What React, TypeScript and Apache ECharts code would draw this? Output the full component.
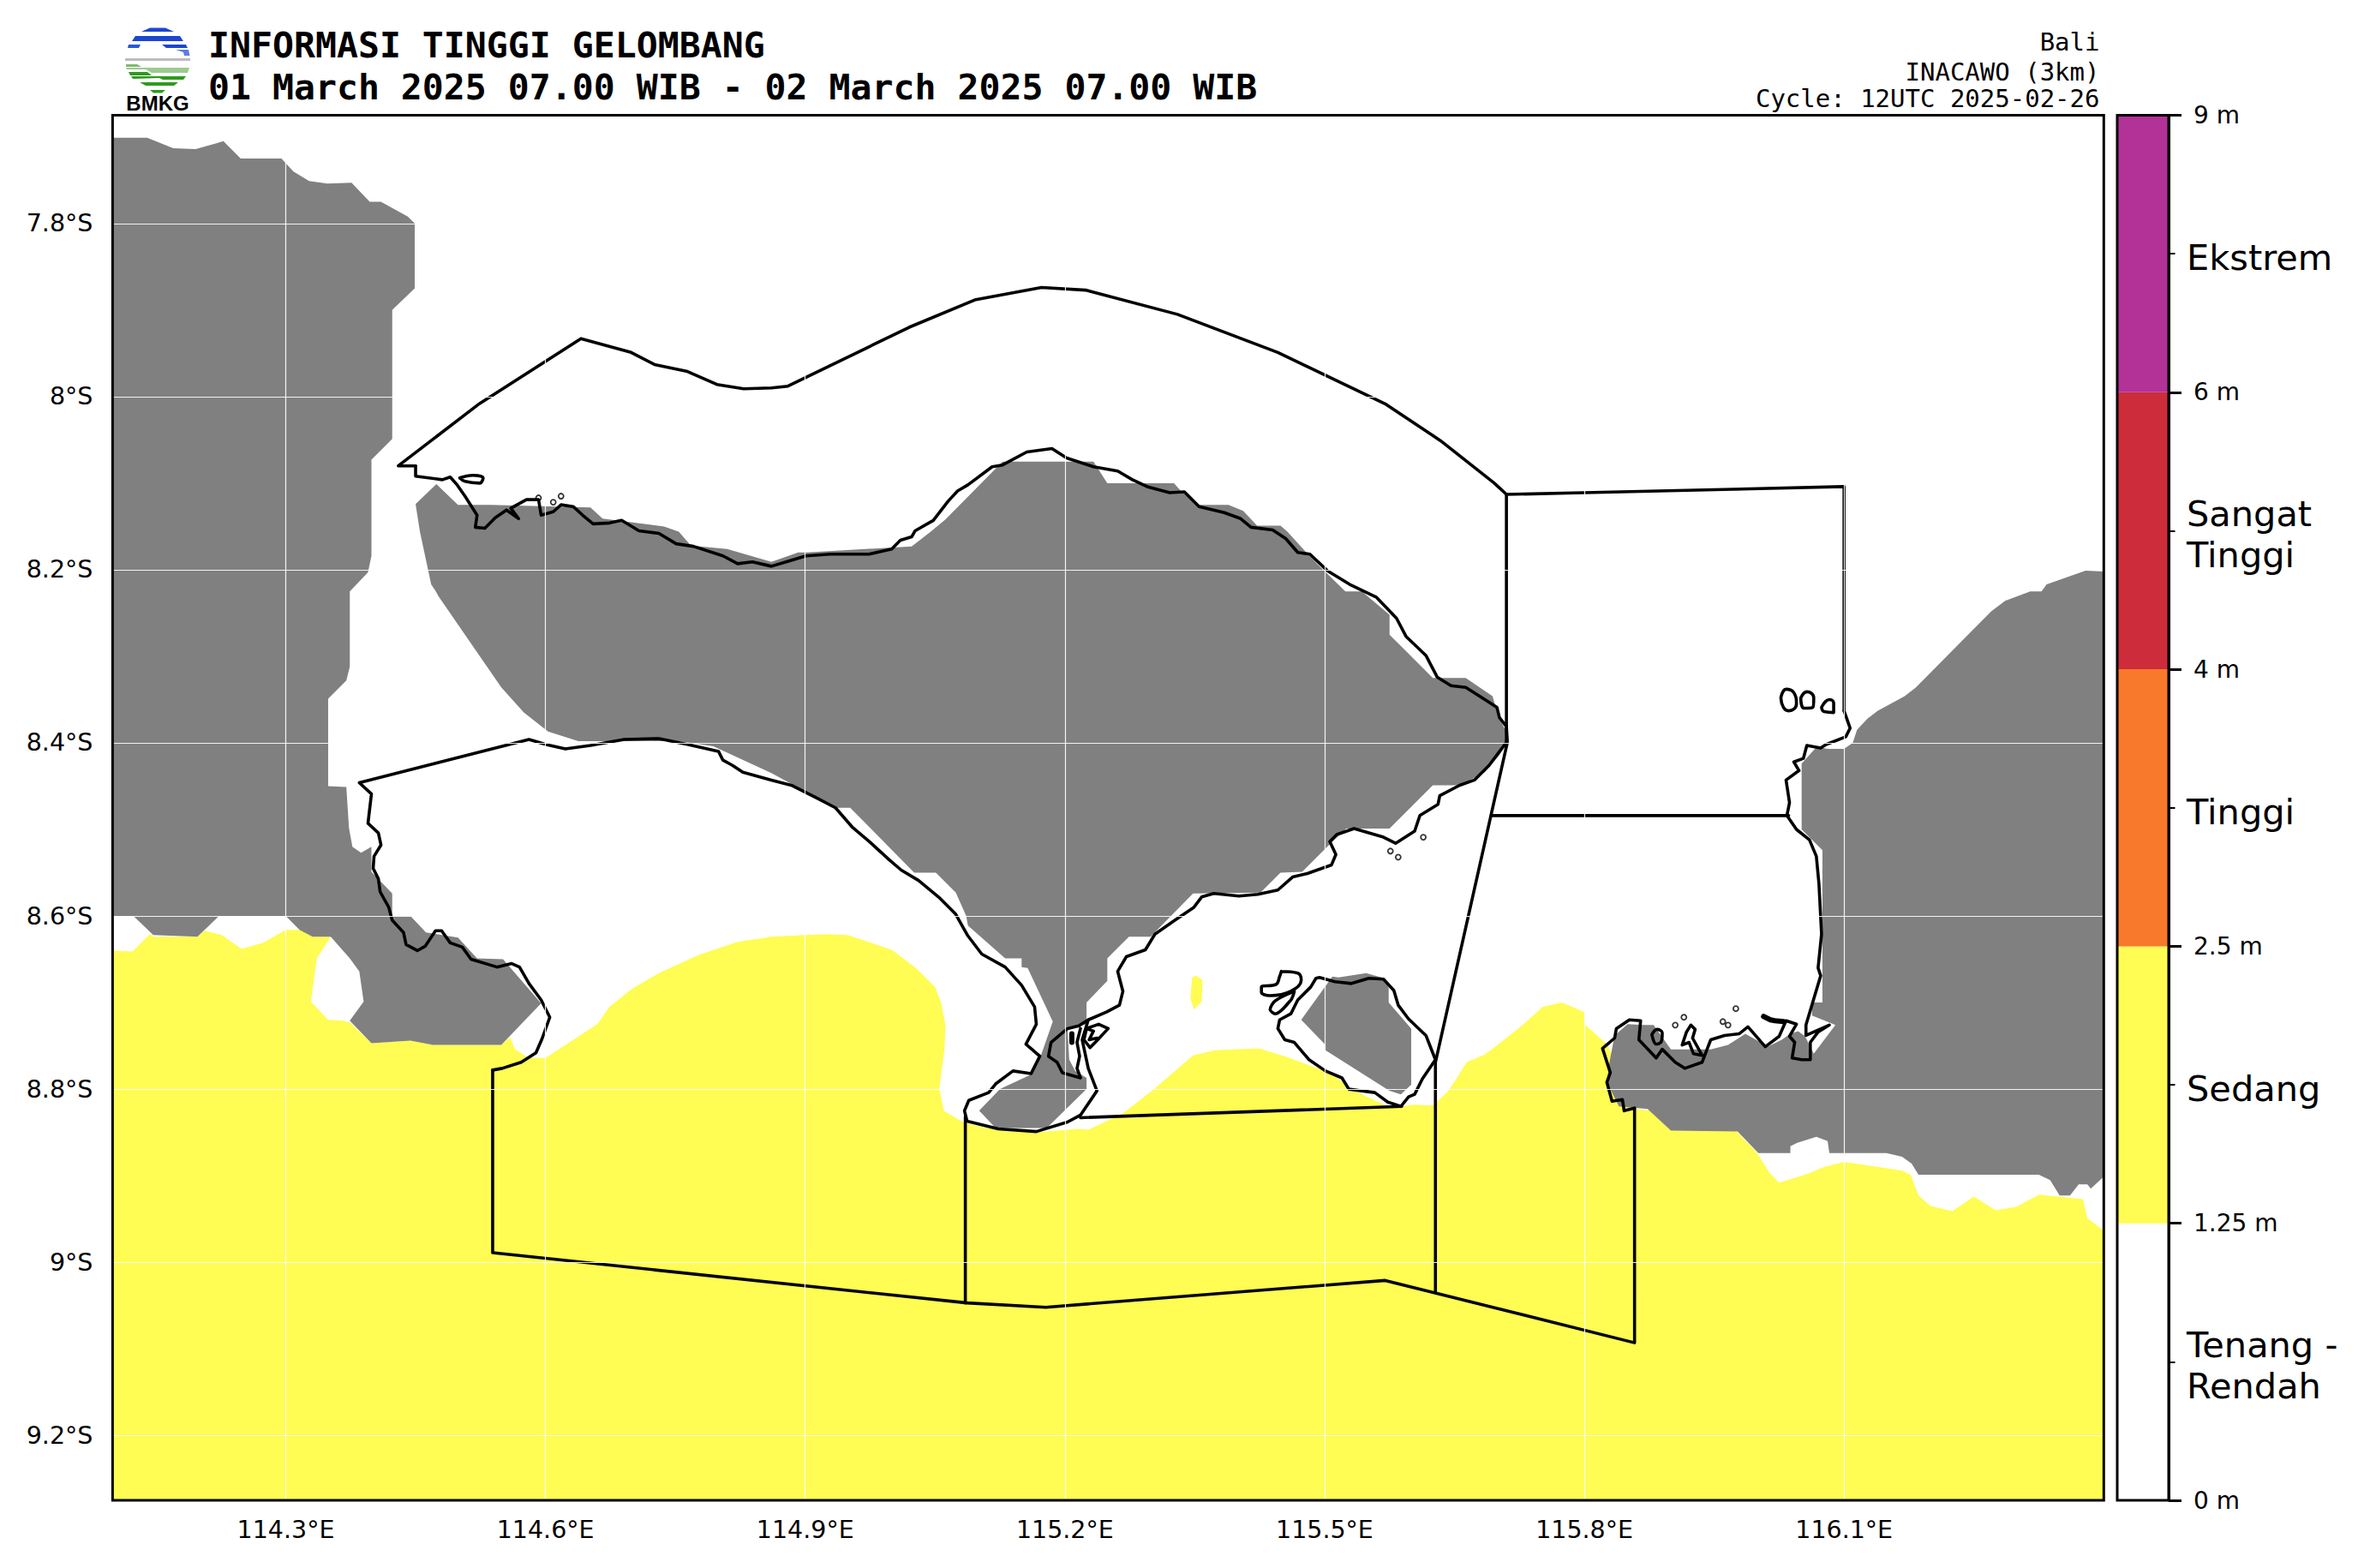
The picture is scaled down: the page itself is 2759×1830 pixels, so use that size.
import React, { useEffect, useRef } from "react";
import * as echarts from "echarts";

type P = [number, number];

const lonTicks = [114.3, 114.6, 114.9, 115.2, 115.5, 115.8, 116.1];
const latTicks = [-7.8, -8, -8.2, -8.4, -8.6, -8.8, -9, -9.2];
const bandEdges = ["0 m", "1.25 m", "2.5 m", "4 m", "6 m", "9 m"];
const bandNames = ["Tenang -\nRendah", "Sedang", "Tinggi", "Sangat\nTinggi", "Ekstrem"];
const bandColors = ["#FFFFFF", "#FFFC53", "#F8792B", "#CD2C3A", "#B23298"];

// all outlines: [longitude E, latitude S]
const waveSedang: P[] = [
  [114.1, 8.64], [114.123, 8.641], [114.143, 8.621], [114.147, 8.624], [114.198, 8.624], [114.206, 8.617], [114.226, 8.622], [114.249, 8.638],
  [114.274, 8.631], [114.3, 8.616], [114.318, 8.616], [114.331, 8.624], [114.352, 8.624], [114.336, 8.649], [114.329, 8.699], [114.349, 8.72],
  [114.366, 8.721], [114.374, 8.723], [114.399, 8.747], [114.444, 8.744], [114.47, 8.749], [114.549, 8.749], [114.559, 8.74], [114.565, 8.754],
  [114.581, 8.764], [114.6, 8.764], [114.66, 8.725], [114.674, 8.705], [114.7, 8.684], [114.731, 8.666], [114.777, 8.645], [114.822, 8.63],
  [114.861, 8.624], [114.9, 8.622], [114.926, 8.621], [114.949, 8.622], [115.0, 8.639], [115.028, 8.66], [115.05, 8.682], [115.057, 8.7],
  [115.062, 8.726], [115.061, 8.753], [115.055, 8.799], [115.06, 8.825], [115.082, 8.838], [115.108, 8.845], [115.167, 8.85], [115.216, 8.846],
  [115.227, 8.847], [115.267, 8.828], [115.303, 8.8], [115.348, 8.761], [115.373, 8.755], [115.424, 8.753], [115.454, 8.762], [115.5, 8.779],
  [115.509, 8.782], [115.528, 8.799], [115.577, 8.822], [115.602, 8.818], [115.625, 8.819], [115.642, 8.803], [115.651, 8.79], [115.664, 8.769],
  [115.685, 8.76], [115.696, 8.752], [115.73, 8.725], [115.752, 8.705], [115.774, 8.7], [115.8, 8.711], [115.8, 8.725], [115.827, 8.749],
  [115.84, 8.78], [115.857, 8.823], [115.876, 8.825], [115.9, 8.848], [115.975, 8.848], [115.999, 8.873], [116.014, 8.897], [116.025, 8.908],
  [116.055, 8.899], [116.077, 8.89], [116.1, 8.884], [116.166, 8.894], [116.177, 8.899], [116.186, 8.923], [116.2, 8.935], [116.225, 8.941],
  [116.25, 8.924], [116.275, 8.94], [116.299, 8.936], [116.325, 8.922], [116.376, 8.927], [116.381, 8.949], [116.398, 8.962], [116.4, 8.965],
  [116.4, 9.275], [114.1, 9.275],
];
const waveSedangIslet: P[] = [[115.347, 8.671], [115.351, 8.669], [115.359, 8.674], [115.358, 8.699], [115.349, 8.708], [115.345, 8.695]];

const landJava: P[] = [
  [114.1, 7.701], [114.14, 7.701], [114.17, 7.713], [114.196, 7.714], [114.228, 7.705], [114.248, 7.725], [114.295, 7.725], [114.309, 7.74],
  [114.327, 7.751], [114.348, 7.754], [114.376, 7.753], [114.397, 7.775], [114.41, 7.775], [114.441, 7.792], [114.449, 7.8], [114.449, 7.875],
  [114.423, 7.9], [114.423, 8.049], [114.399, 8.073], [114.399, 8.184], [114.395, 8.203], [114.374, 8.225], [114.374, 8.312], [114.37, 8.328],
  [114.349, 8.349], [114.349, 8.45], [114.37, 8.451], [114.373, 8.498], [114.377, 8.52], [114.387, 8.527], [114.399, 8.52], [114.399, 8.549],
  [114.423, 8.574], [114.423, 8.6], [114.444, 8.6], [114.462, 8.619], [114.499, 8.625], [114.521, 8.649], [114.551, 8.65], [114.595, 8.701],
  [114.549, 8.749], [114.47, 8.749], [114.444, 8.744], [114.399, 8.747], [114.374, 8.721], [114.39, 8.699], [114.385, 8.664], [114.374, 8.649],
  [114.352, 8.624], [114.331, 8.624], [114.316, 8.616], [114.3, 8.6], [114.223, 8.6], [114.198, 8.624], [114.147, 8.622], [114.124, 8.6], [114.1, 8.6],
];
const landBali: P[] = [
  [114.474, 8.101], [114.499, 8.125], [114.537, 8.125], [114.652, 8.128], [114.666, 8.141], [114.737, 8.15], [114.754, 8.156], [114.768, 8.172],
  [114.81, 8.176], [114.861, 8.191], [114.892, 8.18], [114.902, 8.18], [115.023, 8.173], [115.045, 8.156], [115.062, 8.142], [115.128, 8.075],
  [115.233, 8.075], [115.249, 8.1], [115.326, 8.1], [115.334, 8.109], [115.354, 8.125], [115.389, 8.125], [115.406, 8.132], [115.422, 8.149],
  [115.449, 8.149], [115.457, 8.156], [115.477, 8.178], [115.491, 8.193], [115.524, 8.225], [115.543, 8.225], [115.575, 8.252], [115.575, 8.275],
  [115.625, 8.325], [115.663, 8.325], [115.694, 8.346], [115.701, 8.371], [115.71, 8.387], [115.711, 8.4], [115.702, 8.414], [115.685, 8.434],
  [115.657, 8.449], [115.625, 8.449], [115.575, 8.499], [115.525, 8.499], [115.503, 8.52], [115.474, 8.549], [115.449, 8.55], [115.426, 8.573],
  [115.348, 8.574], [115.299, 8.624], [115.274, 8.624], [115.249, 8.649], [115.249, 8.675], [115.225, 8.7], [115.225, 8.725], [115.203, 8.73],
  [115.205, 8.766], [115.212, 8.779], [115.225, 8.787], [115.225, 8.8], [115.179, 8.845], [115.12, 8.845], [115.101, 8.825], [115.125, 8.8],
  [115.159, 8.784], [115.172, 8.762], [115.186, 8.722], [115.157, 8.66], [115.15, 8.659], [115.15, 8.649], [115.131, 8.649], [115.088, 8.611],
  [115.086, 8.6], [115.074, 8.573], [115.051, 8.55], [115.026, 8.55], [114.952, 8.475], [114.935, 8.475], [114.861, 8.435], [114.794, 8.404],
  [114.753, 8.398], [114.638, 8.398], [114.603, 8.387], [114.575, 8.365], [114.549, 8.336], [114.476, 8.23], [114.474, 8.226], [114.468, 8.217],
  [114.455, 8.156], [114.45, 8.124],
];
const landPenida: P[] = [
  [115.473, 8.72], [115.509, 8.67], [115.516, 8.671], [115.548, 8.666], [115.569, 8.672], [115.574, 8.683], [115.574, 8.7], [115.6, 8.73],
  [115.6, 8.795], [115.588, 8.806], [115.575, 8.802], [115.501, 8.755], [115.501, 8.749],
];
const landLombok: P[] = [
  [116.4, 8.202], [116.379, 8.201], [116.334, 8.217], [116.328, 8.225], [116.315, 8.225], [116.286, 8.236], [116.27, 8.248], [116.183, 8.336],
  [116.17, 8.346], [116.139, 8.363], [116.127, 8.372], [116.115, 8.385], [116.11, 8.4], [116.1, 8.407], [116.082, 8.407], [116.068, 8.405],
  [116.051, 8.424], [116.051, 8.5], [116.075, 8.524], [116.075, 8.7], [116.063, 8.7], [116.063, 8.715], [116.09, 8.726], [116.065, 8.759],
  [116.055, 8.739], [116.047, 8.733], [116.038, 8.736], [116.028, 8.743], [116.012, 8.751], [115.986, 8.736], [115.966, 8.749], [115.946, 8.754],
  [115.9, 8.754], [115.88, 8.726], [115.868, 8.726], [115.85, 8.725], [115.835, 8.738], [115.829, 8.769], [115.826, 8.792], [115.84, 8.82],
  [115.873, 8.823], [115.9, 8.848], [115.977, 8.849], [116.001, 8.874], [116.038, 8.874], [116.038, 8.866], [116.046, 8.862], [116.068, 8.855],
  [116.081, 8.86], [116.083, 8.874], [116.149, 8.874], [116.167, 8.878], [116.178, 8.886], [116.186, 8.899], [116.325, 8.899], [116.338, 8.905],
  [116.349, 8.923], [116.361, 8.923], [116.371, 8.91], [116.381, 8.91], [116.385, 8.915], [116.4, 8.901],
];

const zoneNorth: P[] = [
  [114.45, 8.08], [114.43, 8.08], [114.524, 8.008], [114.641, 7.933], [114.699, 7.949], [114.726, 7.963], [114.764, 7.971], [114.798, 7.986],
  [114.829, 7.991], [114.861, 7.99], [114.88, 7.988], [115.02, 7.92], [115.097, 7.888], [115.173, 7.874], [115.224, 7.877], [115.33, 7.905],
  [115.446, 7.949], [115.571, 8.009], [115.634, 8.051], [115.696, 8.1], [115.71, 8.113], [115.71, 8.4],
];
const zoneEastTop: P[] = [[115.71, 8.113], [115.8, 8.111], [116.1, 8.104], [116.1, 8.363]];
const zoneEastMid: P[] = [[115.693, 8.484], [116.036, 8.484]];
const zoneDiagonal: P[] = [[115.711, 8.4], [115.628, 8.769], [115.628, 9.035]];
const zoneSouth: P[] = [[114.539, 8.778], [114.539, 8.989], [115.087, 9.047], [115.178, 9.052], [115.57, 9.021], [115.858, 9.093], [115.858, 8.822]];
const zoneSouthInner: P[] = [[115.085, 8.832], [115.085, 9.047]];
const zoneStrait: P[] = [[115.218, 8.833], [115.589, 8.82]];

const coastBali: P[] = [
  [114.45, 8.08], [114.45, 8.092], [114.481, 8.096], [114.49, 8.093], [114.498, 8.102], [114.507, 8.115], [114.521, 8.137], [114.519, 8.151],
  [114.53, 8.152], [114.542, 8.14], [114.555, 8.131], [114.569, 8.141], [114.56, 8.129], [114.578, 8.119], [114.592, 8.119], [114.595, 8.137],
  [114.609, 8.133], [114.618, 8.125], [114.632, 8.127], [114.643, 8.137], [114.655, 8.147], [114.674, 8.146], [114.688, 8.143], [114.708, 8.155],
  [114.731, 8.158], [114.751, 8.17], [114.771, 8.173], [114.805, 8.184], [114.822, 8.193], [114.839, 8.191], [114.861, 8.196], [114.878, 8.191],
  [114.901, 8.184], [114.929, 8.182], [114.974, 8.182], [115.0, 8.176], [115.01, 8.166], [115.023, 8.162], [115.027, 8.155], [115.048, 8.143],
  [115.065, 8.121], [115.076, 8.109], [115.088, 8.102], [115.116, 8.081], [115.128, 8.079], [115.156, 8.064], [115.185, 8.06], [115.202, 8.071],
  [115.233, 8.081], [115.261, 8.086], [115.278, 8.096], [115.295, 8.104], [115.321, 8.111], [115.338, 8.11], [115.355, 8.127], [115.384, 8.134],
  [115.403, 8.141], [115.415, 8.151], [115.44, 8.154], [115.455, 8.164], [115.469, 8.18], [115.483, 8.182], [115.503, 8.201], [115.529, 8.217],
  [115.56, 8.232], [115.583, 8.256], [115.594, 8.277], [115.617, 8.299], [115.63, 8.324], [115.646, 8.334], [115.663, 8.336], [115.679, 8.346],
  [115.699, 8.359], [115.702, 8.371], [115.71, 8.381], [115.711, 8.398], [115.702, 8.41], [115.69, 8.426], [115.673, 8.443], [115.656, 8.449],
  [115.633, 8.461], [115.631, 8.471], [115.61, 8.484], [115.604, 8.502], [115.582, 8.516], [115.568, 8.509], [115.551, 8.504], [115.534, 8.499],
  [115.514, 8.506], [115.506, 8.514], [115.513, 8.529], [115.508, 8.541], [115.48, 8.551], [115.463, 8.555], [115.446, 8.57], [115.423, 8.575],
  [115.401, 8.577], [115.372, 8.574], [115.358, 8.578], [115.349, 8.59], [115.327, 8.605], [115.304, 8.621], [115.293, 8.639], [115.271, 8.647],
  [115.261, 8.664], [115.267, 8.687], [115.263, 8.703], [115.248, 8.711], [115.227, 8.72], [115.22, 8.743], [115.227, 8.776], [115.237, 8.802],
  [115.218, 8.83], [115.203, 8.838], [115.167, 8.849], [115.123, 8.846], [115.087, 8.837], [115.084, 8.825], [115.089, 8.813], [115.112, 8.804],
  [115.12, 8.794], [115.14, 8.779], [115.161, 8.782], [115.171, 8.762], [115.155, 8.748], [115.167, 8.725], [115.165, 8.705], [115.15, 8.68],
  [115.131, 8.659], [115.104, 8.644], [115.088, 8.623], [115.08, 8.609], [115.074, 8.598], [115.054, 8.578], [115.031, 8.559], [115.011, 8.547],
  [114.997, 8.535], [114.974, 8.514], [114.955, 8.498], [114.935, 8.475], [114.912, 8.463], [114.884, 8.449], [114.861, 8.443], [114.828, 8.434],
  [114.816, 8.426], [114.805, 8.42], [114.8, 8.41], [114.765, 8.402], [114.731, 8.395], [114.691, 8.396], [114.652, 8.403], [114.623, 8.407],
  [114.601, 8.402], [114.581, 8.396], [114.385, 8.446], [114.399, 8.459], [114.395, 8.493], [114.407, 8.504], [114.41, 8.518], [114.402, 8.531],
  [114.401, 8.545], [114.407, 8.557], [114.409, 8.572], [114.419, 8.59], [114.423, 8.605], [114.436, 8.619], [114.439, 8.633], [114.452, 8.64],
  [114.461, 8.635], [114.473, 8.617], [114.48, 8.617], [114.49, 8.631], [114.504, 8.636], [114.514, 8.65], [114.544, 8.659], [114.561, 8.655],
  [114.57, 8.659], [114.581, 8.678], [114.595, 8.697], [114.605, 8.717], [114.596, 8.742], [114.589, 8.758], [114.572, 8.769], [114.55, 8.776], [114.539, 8.778],
];
const coastBenoa: P[] = [
  [115.227, 8.72], [115.216, 8.727], [115.203, 8.73], [115.184, 8.746], [115.181, 8.762], [115.191, 8.769], [115.197, 8.781], [115.218, 8.787],
  [115.214, 8.776], [115.217, 8.762], [115.214, 8.746], [115.218, 8.73],
];
const coastSerangan: P[] = [[115.225, 8.73], [115.239, 8.725], [115.25, 8.73], [115.237, 8.744], [115.229, 8.752], [115.222, 8.743], [115.225, 8.73], [115.233, 8.733], [115.228, 8.743], [115.237, 8.741]];
const coastBenoaIsle: P[] = [[115.208, 8.736], [115.208, 8.746]];
const coastPenida: P[] = [
  [115.49, 8.672], [115.494, 8.671], [115.512, 8.676], [115.531, 8.678], [115.551, 8.672], [115.568, 8.673], [115.58, 8.686], [115.585, 8.703],
  [115.597, 8.719], [115.617, 8.738], [115.628, 8.766], [115.613, 8.788], [115.604, 8.806], [115.597, 8.809], [115.588, 8.82], [115.573, 8.815],
  [115.558, 8.804], [115.528, 8.8], [115.52, 8.787], [115.501, 8.779], [115.482, 8.766], [115.465, 8.746], [115.454, 8.743], [115.446, 8.73],
  [115.448, 8.72], [115.461, 8.713], [115.469, 8.697], [115.484, 8.682], [115.49, 8.672],
];
const coastLembongan: P[] = [[115.45, 8.664], [115.469, 8.666], [115.473, 8.674], [115.461, 8.687], [115.437, 8.692], [115.427, 8.688], [115.427, 8.682], [115.444, 8.679], [115.448, 8.67], [115.45, 8.664]];
const coastCeningan: P[] = [[115.465, 8.687], [115.461, 8.697], [115.443, 8.713], [115.437, 8.708], [115.443, 8.698], [115.465, 8.687]];
const coastMenjangan: P[] = [[114.501, 8.094], [114.516, 8.091], [114.528, 8.094], [114.524, 8.1], [114.507, 8.098], [114.501, 8.094]];
const coastLombok: P[] = [
  [116.1, 8.363], [116.107, 8.383], [116.102, 8.393], [116.079, 8.402], [116.073, 8.406], [116.057, 8.403], [116.053, 8.418], [116.042, 8.422],
  [116.048, 8.432], [116.033, 8.443], [116.037, 8.469], [116.034, 8.484], [116.045, 8.5], [116.06, 8.512], [116.068, 8.531], [116.071, 8.563],
  [116.074, 8.621], [116.07, 8.66], [116.073, 8.669], [116.056, 8.726], [116.056, 8.738], [116.083, 8.726], [116.07, 8.734], [116.061, 8.746],
  [116.061, 8.766], [116.051, 8.766], [116.04, 8.764], [116.043, 8.746], [116.037, 8.739], [116.045, 8.725], [116.033, 8.721], [116.025, 8.739],
  [116.009, 8.751], [115.989, 8.728], [115.979, 8.736], [115.962, 8.738], [115.946, 8.743], [115.941, 8.756], [115.936, 8.769], [115.916, 8.776],
  [115.905, 8.769], [115.89, 8.754], [115.883, 8.764], [115.863, 8.743], [115.865, 8.721], [115.852, 8.72], [115.837, 8.73], [115.835, 8.741],
  [115.821, 8.753], [115.83, 8.781], [115.826, 8.792], [115.832, 8.814], [115.844, 8.812], [115.846, 8.825], [115.858, 8.822],
];
const coastLombokIsle: P[] = [[115.918, 8.734], [115.923, 8.726], [115.928, 8.731], [115.925, 8.741], [115.936, 8.761], [115.926, 8.759], [115.921, 8.746], [115.913, 8.749], [115.918, 8.734]];
const coastLombokLoop: P[] = [[115.878, 8.737], [115.884, 8.731], [115.89, 8.735], [115.889, 8.745], [115.883, 8.748], [115.878, 8.737]];
const coastLombokSpit: P[] = [[116.007, 8.716], [116.015, 8.72], [116.02, 8.721], [116.03, 8.722]];
const giliTrawangan: P[] = [[116.027, 8.348], [116.033, 8.338], [116.042, 8.342], [116.045, 8.355], [116.036, 8.363], [116.03, 8.359], [116.027, 8.348]];
const giliMeno: P[] = [[116.05, 8.348], [116.057, 8.341], [116.065, 8.348], [116.064, 8.359], [116.054, 8.36], [116.05, 8.348]];
const giliAir: P[] = [[116.074, 8.359], [116.083, 8.35], [116.088, 8.354], [116.088, 8.365], [116.077, 8.364], [116.074, 8.359]];
const smallIslets: P[] = [
  [115.576, 8.525], [115.585, 8.532], [115.614, 8.509], [114.592, 8.117], [114.609, 8.122], [114.618, 8.115],
  [115.905, 8.726], [115.915, 8.717], [115.975, 8.707], [115.96, 8.722], [115.966, 8.726],
];

const S = (pts: P[]) => pts.map(([x, y]) => [x, -y]);

const lonMin = 114.1, lonMax = 116.4, latMin = -9.275, latMax = -7.675;

const fillSeries = (name: string, pts: P[], color: string, z: number) => {
  const data = S(pts);
  return {
    type: "custom", name, coordinateSystem: "cartesian2d", xAxisIndex: 0, yAxisIndex: 0, z, clip: true, silent: true,
    data, encode: { x: 0, y: 1 },
    renderItem: (params: any, api: any) =>
      params.dataIndex === 0 ? { type: "polygon", shape: { points: data.map((p) => api.coord(p)) }, style: { fill: color, stroke: "none" } } : null,
  };
};
const lineSeries = (name: string, pts: P[], width = 3.6, smooth: number | boolean = false) => ({
  type: "line", name, xAxisIndex: 0, yAxisIndex: 0, z: 3, silent: true, showSymbol: false, symbol: "none", data: S(pts), smooth,
  lineStyle: { color: "#000", width, join: "round", cap: "round" },
});

const logoShapes: [number[][], string][] = [
  [[[175, 32.5], [193, 32.5], [203, 37], [165, 37]], "#1B46D0"],
  [[[158, 42], [210, 42], [214, 48], [154, 48]], "#1B46D0"],
  [[[150, 52], [164, 52], [162, 56], [149, 56]], "#2A58D8"],
  [[[189, 52], [217, 52], [219, 56], [194, 56]], "#1B46D0"],
  [[[205, 58], [220, 58], [221.5, 65], [215, 65], [214, 61]], "#5C7FE0"],
  [[[146, 68], [222, 68], [222, 71], [146, 71]], "#BDBDBD"],
  [[[147, 75], [160, 75], [165, 78], [147, 78]], "#7DBB6C"],
  [[[147, 79], [221, 79], [219, 85], [177, 85], [170, 81], [148, 81]], "#9CCB8E"],
  [[[150, 84], [172, 84], [177, 88], [152, 88]], "#2E9A1E"],
  [[[153, 89], [217, 89], [214, 93], [190, 93], [186, 91], [155, 92]], "#2E9A1E"],
  [[[163, 96], [208, 96], [203, 100], [170, 100]], "#2E9A1E"],
  [[[175, 105], [193, 105], [189, 108.5], [179, 108.5]], "#2E9A1E"],
];

const mono = "'DejaVu Sans Mono', monospace";
const sans = "'DejaVu Sans', sans-serif";
const labelNudge = 0.014;

export default function App() {
  const ref = useRef<HTMLDivElement>(null);
  useEffect(() => {
    document.body.style.margin = "0";
    const chart = echarts.init(ref.current!, null, { renderer: "svg" });
    const text = (t: string, x: number, y: number, size: number, bold: boolean, align = "left", family = mono) => ({
      type: "text", x, y, z: 20, silent: true,
      style: { text: t, fontFamily: family, fontSize: size, fontWeight: bold ? "bold" : "normal", fill: "#000", textAlign: align, textVerticalAlign: "bottom" },
    });
    chart.setOption({
      animation: false,
      backgroundColor: "#fff",
      grid: [
        { left: 131.4, top: 134.5, width: 2323.9, height: 1616.5 },
        { left: 2471, top: 134.5, width: 60, height: 1616.5 },
      ],
      xAxis: [
        {
          type: "value", gridIndex: 0, min: lonMin, max: lonMax, z: 5,
          axisLine: { show: false }, axisTick: { show: false, customValues: lonTicks },
          axisLabel: { customValues: lonTicks, margin: 20, fontSize: 28.5, fontFamily: sans, color: "#000", formatter: (v: number) => `${v}°E` },
          splitLine: { show: true, lineStyle: { color: "rgba(255,255,255,0.9)", width: 1.2 } },
        },
        { type: "category", gridIndex: 1, data: ["Tinggi Gelombang"], axisLine: { show: false }, axisTick: { show: false }, axisLabel: { show: false } },
      ],
      yAxis: [
        {
          type: "value", gridIndex: 0, min: latMin, max: latMax, z: 5,
          axisLine: { show: false }, axisTick: { show: false, customValues: latTicks },
          axisLabel: { customValues: latTicks, margin: 23, fontSize: 28.5, fontFamily: sans, color: "#000", formatter: (v: number) => `${-v}°S` },
          splitLine: { show: true, lineStyle: { color: "rgba(255,255,255,0.9)", width: 1.2 } },
        },
        {
          type: "value", gridIndex: 1, min: 0, max: 5, position: "right", z: 6,
          axisLine: { show: true, lineStyle: { color: "#000", width: 3 } },
          axisTick: { show: true, length: 15, lineStyle: { color: "#000", width: 3 }, customValues: [0, 1, 2, 3, 4, 5] },
          axisLabel: { customValues: [0, 1, 2, 3, 4, 5], margin: 29, fontSize: 28, fontFamily: sans, color: "#000", align: "left", formatter: (v: number) => bandEdges[v] },
          splitLine: { show: false },
        },
        {
          type: "value", gridIndex: 1, min: 0, max: 5, position: "right", z: 6,
          axisLine: { show: false },
          axisTick: { show: true, length: 7.5, lineStyle: { color: "#000", width: 2 }, customValues: [0.5, 1.5, 2.5, 3.5, 4.5] },
          axisLabel: { show: false },
          splitLine: { show: false },
        },
        {
          type: "value", gridIndex: 1, min: 0, max: 5, position: "right", z: 6,
          axisLine: { show: false }, axisTick: { show: false },
          axisLabel: {
            customValues: [0.5, 1.5, 2.5, 3.5, 4.5].map((v) => v - labelNudge), margin: 21, fontSize: 41.5, lineHeight: 48, fontFamily: sans, color: "#000", align: "left",
            formatter: (v: number) => bandNames[Math.round(v + labelNudge - 0.5)],
          },
          splitLine: { show: false },
        },
      ],
      series: [
        fillSeries("Sedang", waveSedang, "#FFFC53", 1),
        fillSeries("Sedang islet", waveSedangIslet, "#FFFC53", 1),
        fillSeries("Java", landJava, "#808080", 2),
        fillSeries("Bali", landBali, "#808080", 2),
        fillSeries("Nusa Penida", landPenida, "#808080", 2),
        fillSeries("Lombok", landLombok, "#808080", 2),
        lineSeries("zone north", zoneNorth),
        lineSeries("zone east top", zoneEastTop),
        lineSeries("zone east mid", zoneEastMid),
        lineSeries("zone diagonal", zoneDiagonal),
        lineSeries("zone south", zoneSouth),
        lineSeries("zone south inner", zoneSouthInner),
        lineSeries("zone strait", zoneStrait),
        lineSeries("coast Bali", coastBali),
        lineSeries("coast Benoa", coastBenoa),
        lineSeries("coast Serangan", coastSerangan),
        lineSeries("coast Benoa isle", coastBenoaIsle, 6),
        lineSeries("coast Penida", coastPenida),
        lineSeries("coast Lembongan", coastLembongan, 3.6, 0.4),
        lineSeries("coast Ceningan", coastCeningan, 3.6, 0.3),
        lineSeries("coast Menjangan", coastMenjangan, 3.6, 0.4),
        lineSeries("coast Lombok", coastLombok),
        lineSeries("coast Lombok isle", coastLombokIsle),
        lineSeries("coast Lombok loop", coastLombokLoop, 3.6, 0.4),
        lineSeries("coast Lombok spit", coastLombokSpit, 6),
        lineSeries("Gili Trawangan", giliTrawangan, 3.6, 0.5),
        lineSeries("Gili Meno", giliMeno, 3.6, 0.5),
        lineSeries("Gili Air", giliAir, 3.6, 0.5),
        {
          type: "scatter", name: "islets", xAxisIndex: 0, yAxisIndex: 0, z: 3, silent: true, symbol: "circle", symbolSize: 6, data: S(smallIslets),
          itemStyle: { color: "rgba(0,0,0,0)", borderColor: "#000", borderWidth: 1.8 },
        },
        ...bandNames.map((n, i) => ({
          type: "bar", name: n.replace("\n", " "), xAxisIndex: 1, yAxisIndex: 1, stack: "bands", barWidth: "100%", silent: true, z: 2,
          data: [1], itemStyle: { color: bandColors[i] },
        })),
      ],
      graphic: [
        { type: "rect", z: 15, silent: true, shape: { x: 131.4, y: 134.5, width: 2323.9, height: 1616.5 }, style: { fill: "none", stroke: "#000", lineWidth: 3 } },
        { type: "rect", z: 15, silent: true, shape: { x: 2471, y: 134.5, width: 60, height: 1616.5 }, style: { fill: "none", stroke: "#000", lineWidth: 3 } },
        ...logoShapes.map(([points, fill]) => ({ type: "polygon", z: 15, silent: true, shape: { points }, style: { fill } })),
        text("BMKG", 184, 132, 24, true, "center", "'Liberation Sans', Arial, sans-serif"),
        text("INFORMASI TINGGI GELOMBANG", 243, 73, 41.5, true),
        text("01 March 2025 07.00 WIB - 02 March 2025 07.00 WIB", 243, 122, 41.5, true),
        text("Bali", 2450.5, 63.5, 29, false, "right"),
        text("INACAWO (3km)", 2450.5, 98, 29, false, "right"),
        text("Cycle: 12UTC 2025-02-26", 2450.5, 129, 29, false, "right"),
      ],
    });
    return () => chart.dispose();
  }, []);
  return <div ref={ref} style={{ position: "absolute", left: 0, top: 0, width: 2759, height: 1830 }} />;
}
